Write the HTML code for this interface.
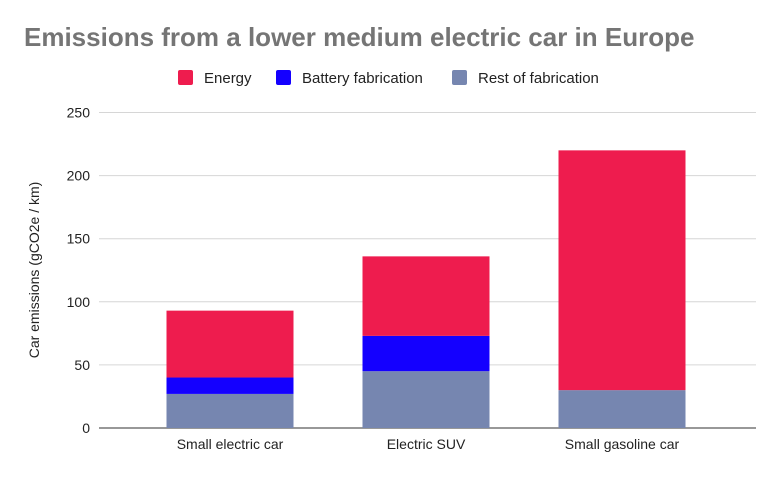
<!DOCTYPE html>
<html><head><meta charset="utf-8"><style>
body{margin:0;background:#fff;font-family:"Liberation Sans",sans-serif}
</style></head><body>
<svg id="c" width="776" height="474" xmlns="http://www.w3.org/2000/svg">
<text x="24" y="46" font-size="26" font-weight="bold" fill="#757575">Emissions from a lower medium electric car in Europe</text>
<g>
<rect x="178" y="70" width="15" height="15" rx="2" fill="#ee1c4e"/>
<text x="204" y="83" font-size="15" fill="#222">Energy</text>
<rect x="276" y="70" width="15" height="15" rx="2" fill="#1400ff"/>
<text x="302" y="83" font-size="15" fill="#222">Battery fabrication</text>
<rect x="452" y="70" width="15" height="15" rx="2" fill="#7686b0"/>
<text x="478" y="83" font-size="15" fill="#222">Rest of fabrication</text>
</g>
<text transform="translate(39,270) rotate(-90)" text-anchor="middle" font-size="14" fill="#222">Car emissions (gCO2e / km)</text>
<g id="grid"></g><g id="bars"></g><g id="xl"></g>
</svg>
<script>
const categories=["Small electric car","Electric SUV","Small gasoline car"];
const rest=[27,45,30];
const battery=[13,28,0];
const energy=[53,63,190];
const yTicks=[0,50,100,150,200,250];
const ns="http://www.w3.org/2000/svg";
const X0=99,X1=756,Y0=428,YMAX=250,YTOP=112.5;
const BAND0=132,BAND=196;
const y=v=>Y0-(v/YMAX)*(Y0-YTOP);
const bw=127;
const cx=i=>BAND0+BAND*(i+0.5);
function mk(t,a,p){const e=document.createElementNS(ns,t);for(const k in a)e.setAttribute(k,a[k]);p.appendChild(e);return e;}
const g=document.getElementById('grid');
yTicks.forEach(v=>{
 const l=mk('line',{x1:X0,x2:X1,y1:y(v),y2:y(v),stroke:v===0?'#777':'#d6d6d6','stroke-width':v===0?1.5:1},g);
 
 
 const t=mk('text',{x:90,y:y(v)+5,'text-anchor':'end','font-size':14,fill:'#222'},g);
 t.textContent=v;
 
 
});
const b=document.getElementById('bars');
const series=[[rest,'#7686b0','rest'],[battery,'#1400ff','battery'],[energy,'#ee1c4e','energy']];
categories.forEach((c,i)=>{
 let base=0;
 series.forEach(([arr,col,nm])=>{
  const v=arr[i];if(v<=0)return;
  const r=mk('rect',{x:cx(i)-bw/2,y:y(base+v),width:bw,height:y(base)-y(base+v),fill:col},b);
  
  
  base+=v;
 });
 const t=mk('text',{x:cx(i),y:449,'text-anchor':'middle','font-size':14,fill:'#222'},document.getElementById('xl'));
 t.textContent=c;
 
 
});
</script>
</body></html>
